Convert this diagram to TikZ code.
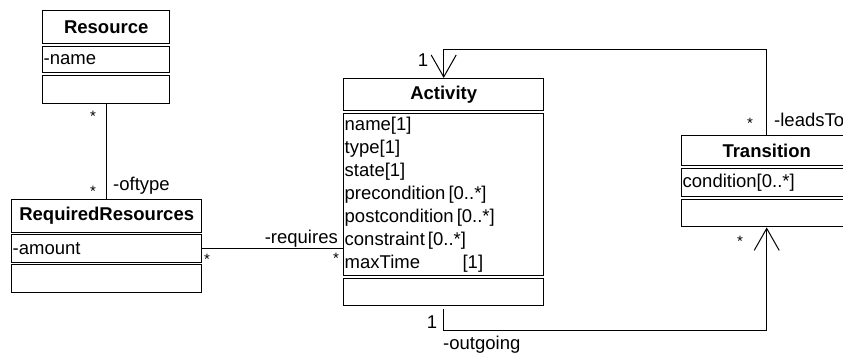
\documentclass[tikz,border=0pt]{standalone}
\usepackage{fontspec}
\setmainfont{Liberation Sans}
\usetikzlibrary{arrows.meta}

\begin{document}
\begin{tikzpicture}[x=1pt, y=-1pt,
        font=\fontsize{18.5}{23}\selectfont,
        box/.style={draw, line width=1.4pt, anchor=north west, inner sep=1pt},
        attr/.style={box, align=left, text width=#1},
        link/.style={line width=1pt},
        open/.style={link, -{Straight Barb[length=22pt, width=25pt]}},
        mult/.style={font=\fontsize{15}{17}\selectfont, inner sep=0pt}]
        \useasboundingbox (0, 0) rectangle (843, 353);

        % Resource
        \node [box, minimum width=127pt, minimum height=33pt] (restitle) at (42, 10) {\bfseries Resource};
        \node [attr=125pt, minimum height=26pt] (resattr) at (42, 46) {-name};
        \node [attr=125pt, minimum height=28pt] (resops) at (42, 75) {};

        % RequiredResources
        \node [box, minimum width=190pt, minimum height=33pt] (reqtitle) at (11, 199) {\bfseries RequiredResources};
        \node [attr=188pt, minimum height=28pt] (reqattr) at (11, 234) {-amount};
        \node [attr=188pt, minimum height=28pt] (reqops) at (11, 264) {};

        % Activity
        \node [box, minimum width=200pt, minimum height=32pt] (acttitle) at (343, 78) {\bfseries Activity};
        \node [attr=198pt, minimum height=162pt] (actattr) at (343, 113)
                {name[1]\\type[1]\\state[1]\\precondition\,[0..*]\\postcondition\,[0..*]\\constraint\,[0..*]\\maxTime\hspace{2.3em}[1]};
        \node [attr=198pt, minimum height=27pt] (actops) at (343, 278) {};

        % Transition
        \node [box, minimum width=170pt, minimum height=30pt] (trtitle) at (681, 135) {\bfseries Transition};
        \node [attr=168pt, minimum height=28pt] (trattr) at (681, 168) {condition[0..*]};
        \node [attr=168pt, minimum height=27pt] (trops) at (681, 199) {};

        % associations
        \draw [link] (resops.south) -- (resops.south |- reqtitle.north);
        \node [mult] (m1) at (93, 116) {*};
        \node [mult] (m2) at (93, 191) {*};
        \node [right, inner sep=0pt] (oftype) at (113, 186) {-oftype};

        \draw [link] (reqattr.east) -- (reqattr.east -| actattr.west);
        \node [left, inner sep=0pt] (requires) at (338, 239) {-requires};
        \node [mult] (m3) at (207, 259) {*};
        \node [mult] (m4) at (336, 258) {*};

        \draw [open] (trtitle.north) -- ++(0, -85) -| (acttitle.north);
        \node [inner sep=0pt] (one1) at (423, 60) {1};
        \node [mult] (m5) at (750, 123) {*};
        \node [right, inner sep=0pt] (leadsto) at (774, 120) {-leadsTo};

        \draw [open] ([yshift=-3pt]actops.south) -- ++(0, 21) -| (trops.south);
        \node [mult] (m6) at (740, 241) {*};
        \node [inner sep=0pt] (one2) at (432, 322) {1};
        \node [right, inner sep=0pt] (outgoing) at (443, 345) {-outgoing};
\end{tikzpicture}
\end{document}
